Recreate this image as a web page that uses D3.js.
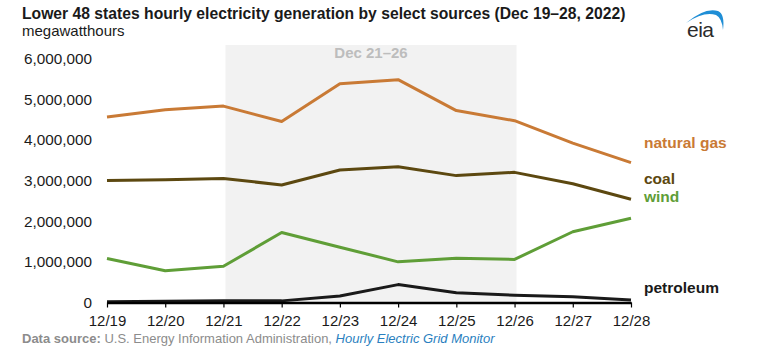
<!DOCTYPE html>
<html>
<head>
<meta charset="utf-8">
<script src="https://cdn.jsdelivr.net/npm/d3@7"></script>
<style>
  body { margin: 0; background: #fff; }
  svg { font-family: Arial, "Liberation Sans", sans-serif; display: block; }
</style>
</head>
<body>
<div id="chart"></div>
<script>
// Daily generation, megawatthours
const dates = ["12/19", "12/20", "12/21", "12/22", "12/23", "12/24", "12/25", "12/26", "12/27", "12/28"];
const naturalGas = [4560000, 4740000, 4830000, 4450000, 5380000, 5480000, 4720000, 4470000, 3920000, 3440000];
const coal = [3000000, 3020000, 3050000, 2890000, 3260000, 3340000, 3120000, 3200000, 2920000, 2540000];
const wind = [1080000, 780000, 890000, 1720000, 1360000, 1000000, 1090000, 1060000, 1740000, 2070000];
const petroleum = [20000, 30000, 40000, 40000, 160000, 440000, 240000, 180000, 140000, 60000];
const yTicks = [0, 1000000, 2000000, 3000000, 4000000, 5000000, 6000000];
const shadeDates = ["12/21", "12/26"];
const shadeLabel = "Dec 21–26";

const width = 761, height = 346;

const svg = d3.select("#chart")
  .append("svg")
  .attr("width", width)
  .attr("height", height);

const x = d3.scalePoint()
  .domain(dates)
  .range([107, 631]);

const y = d3.scaleLinear()
  .domain([0, 6000000])
  .range([302.5, 58.5]);

// titles
svg.append("text")
  .attr("x", 22).attr("y", 19)
  .attr("font-size", 15.7).attr("font-weight", "bold").attr("fill", "#1a1a1a")
  .text("Lower 48 states hourly electricity generation by select sources (Dec 19–28, 2022)");

svg.append("text")
  .attr("x", 22).attr("y", 36)
  .attr("font-size", 15).attr("fill", "#1a1a1a")
  .text("megawatthours");

// eia logo
const logo = svg.append("g");
logo.append("path")
  .attr("d", "M686,23 Q705,7 718,11 Q725,14 723,30 Q722,18 716,15 Q704,11 686,23 Z")
  .attr("fill", "#1f8ed6");
logo.append("text")
  .attr("x", 687).attr("y", 37)
  .attr("font-size", 21).attr("fill", "#2b2b2b")
  .attr("letter-spacing", -0.5)
  .text("eia");

// shaded holiday window
svg.append("rect")
  .attr("x", x(shadeDates[0]) + 2)
  .attr("y", 45)
  .attr("width", x(shadeDates[1]) - x(shadeDates[0]))
  .attr("height", y(0) - 45)
  .attr("fill", "#f2f2f2");

svg.append("text")
  .attr("x", (x(shadeDates[0]) + x(shadeDates[1])) / 2 + 2)
  .attr("y", 58)
  .attr("text-anchor", "middle")
  .attr("font-size", 15).attr("font-weight", "bold").attr("fill", "#bdbdbd")
  .text(shadeLabel);

// y axis labels, no line
const yAxis = svg.append("g")
  .attr("transform", "translate(92,0)")
  .call(d3.axisLeft(y).tickValues(yTicks).tickSize(0).tickPadding(0)
    .tickFormat(d3.format(",")));
yAxis.select(".domain").remove();
yAxis.selectAll("text")
  .attr("font-size", 15.3).attr("fill", "#1a1a1a")
  .attr("font-family", "Arial, 'Liberation Sans', sans-serif");

// series
const series = [
  { name: "natural gas", values: naturalGas, color: "#c97a35", labelY: 143 },
  { name: "coal", values: coal, color: "#5c4810", labelY: 179 },
  { name: "wind", values: wind, color: "#5f9e37", labelY: 197 },
  { name: "petroleum", values: petroleum, color: "#1a1a1a", labelY: 288 }
];

const line = d3.line()
  .x((d, i) => x(dates[i]))
  .y(d => y(d));

svg.append("g")
  .selectAll("path")
  .data(series)
  .enter()
  .append("path")
  .attr("d", d => line(d.values))
  .attr("fill", "none")
  .attr("stroke", d => d.color)
  .attr("stroke-width", 3)
  .attr("stroke-linejoin", "round");

svg.append("g")
  .selectAll("text")
  .data(series)
  .enter()
  .append("text")
  .attr("x", 644)
  .attr("y", d => d.labelY)
  .attr("dy", "0.35em")
  .attr("font-size", 15.5).attr("font-weight", "bold")
  .attr("fill", d => d.color)
  .text(d => d.name);

// x axis
const xAxis = svg.append("g")
  .attr("transform", `translate(0,${y(0)})`)
  .call(d3.axisBottom(x).tickSize(5).tickPadding(8).tickSizeOuter(0));
xAxis.select(".domain")
  .attr("stroke", "#000").attr("stroke-width", 2.5);
xAxis.selectAll(".tick line").attr("stroke", "#000").attr("stroke-width", 1.2);
xAxis.selectAll("text")
  .attr("font-size", 15).attr("fill", "#1a1a1a")
  .attr("font-family", "Arial, 'Liberation Sans', sans-serif");

// source note
const note = svg.append("text")
  .attr("x", 22).attr("y", 343)
  .attr("font-size", 13).attr("fill", "#8c8c8c");
note.append("tspan").attr("font-weight", "bold").text("Data source: ");
note.append("tspan").text("U.S. Energy Information Administration, ");
note.append("tspan").attr("font-style", "italic").attr("fill", "#2a7fc0").text("Hourly Electric Grid Monitor");
</script>
</body>
</html>
